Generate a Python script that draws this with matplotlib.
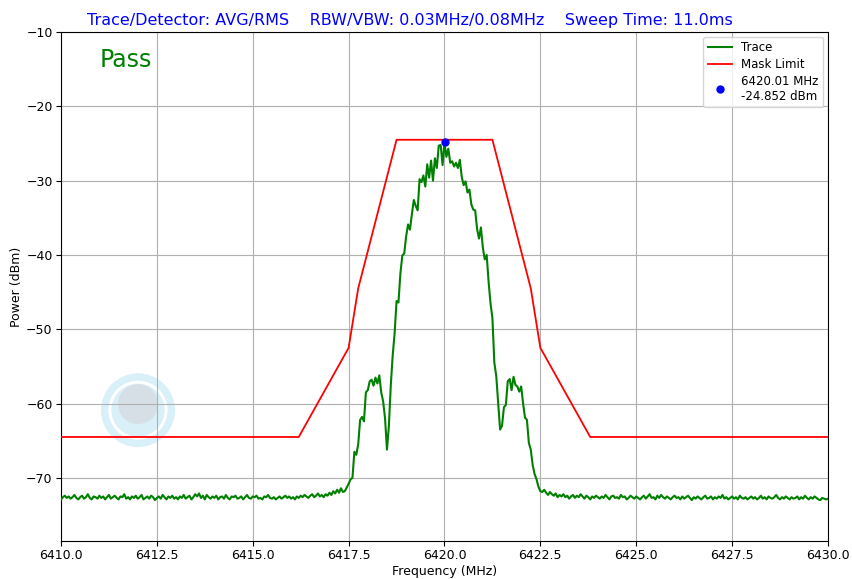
import numpy as np
import matplotlib
matplotlib.use("Agg")
import matplotlib.pyplot as plt
from matplotlib.patches import Ellipse

# sweep: 6410 .. 6430 MHz, 0.05 MHz step
start_freq = 6410.0
step = 0.05

floor_left = [
    -72.9, -72.6, -72.4, -72.7, -72.5, -72.8, -72.6, -72.3, -72.7, -72.9, -72.6, -72.4, -72.8, -72.6, -72.2, -72.7, -72.9, -72.5, -72.6, -72.8,
    -72.4, -72.7, -72.5, -72.9, -72.6, -72.3, -72.8, -72.6, -72.4, -72.7, -72.9, -72.5, -72.6, -72.2, -72.8, -72.6, -72.9, -72.5, -72.7, -72.4,
    -72.8, -72.6, -72.3, -72.9, -72.7, -72.5, -72.8, -72.4, -72.6, -73.0, -72.7, -72.5, -72.8, -72.3, -72.6, -72.9, -72.5, -72.7, -72.4, -72.8,
    -72.6, -72.9, -72.5, -72.7, -72.3, -72.8, -72.6, -72.4, -72.9, -72.6, -72.2, -72.5, -72.1, -72.7, -72.4, -72.9, -72.3, -72.6, -72.8, -72.5,
    -72.7, -72.4, -72.9, -72.6, -72.5, -72.8, -72.3, -72.7, -72.9, -72.5, -72.6, -72.4, -72.8, -72.7, -72.5, -72.9, -72.6, -72.3, -72.7, -72.8,
    -72.5, -72.6, -72.4, -72.8, -72.7, -72.9, -72.5, -72.6, -72.3, -72.7, -72.8, -72.6, -72.9, -72.7, -72.5, -72.8, -72.6, -72.4, -72.7, -72.5,
    -72.8, -72.6, -72.9, -72.5, -72.7, -72.4, -72.6, -72.3, -72.5, -72.7, -72.4, -72.2, -72.6, -72.4, -72.1, -72.5, -72.3, -72.6, -72.2, -72.4,
    -72.0, -72.3, -71.8, -72.1, -71.6, -72.0, -71.4, -71.9,
]

signal = [
    -71.8, -71.3, -70.8, -70.2, -70.0, -66.5, -66.9, -65.5, -62.2, -61.8,
    -62.4, -58.5, -58.2, -57.0, -56.8, -57.6, -56.5, -57.3, -56.2, -58.5,
    -59.7, -62.0, -66.2, -63.0, -57.5, -53.5, -50.5, -46.2, -46.4, -42.5,
    -40.1, -39.8, -37.5, -35.9, -36.6, -34.5, -32.6, -33.4, -34.0, -29.8,
    -30.2, -29.3, -30.8, -27.8, -29.6, -27.3, -30.0, -27.0, -28.3, -25.3,
    -25.2, -27.9, -24.852, -26.8, -25.7, -27.6, -27.4, -28.1, -27.6, -28.3,
    -27.2, -29.5, -30.6, -30.1, -31.6, -31.2, -33.2, -33.9, -34.0, -36.5,
    -37.8, -36.3, -39.0, -40.6, -40.0, -43.6, -46.5, -48.5, -54.5, -56.3,
    -60.0, -63.5, -63.0, -60.5, -60.2, -57.0, -56.7, -58.2, -56.4, -57.5,
    -57.7, -58.4, -57.7, -60.0, -61.9, -62.2, -65.3, -66.2, -68.3, -69.5,
    -70.2, -71.2, -71.8, -71.9, -71.6,
]

floor_right = [
    -72.0, -72.3, -71.9, -72.2, -72.4, -72.1, -72.6,
    -72.3, -72.5, -72.2, -72.6, -72.4, -72.8, -72.5, -72.3, -72.7, -72.4, -72.6, -72.2, -72.5, -72.8, -72.4, -72.6, -72.9, -72.5, -72.7, -72.4,
    -72.6, -72.8, -72.5, -72.7, -72.3, -72.6, -72.9, -72.5, -72.4, -72.7, -72.6, -72.8, -72.3, -72.6, -72.5, -72.9, -72.7, -72.4, -72.6, -72.8,
    -72.5, -72.7, -72.9, -72.6, -72.4, -72.8, -72.5, -72.2, -72.7, -72.6, -72.9, -72.4, -72.7, -72.3, -72.6, -72.8, -72.5, -72.7, -72.9, -72.6,
    -72.4, -72.7, -72.6, -72.9, -72.5, -72.8, -72.6, -72.4, -72.7, -73.0, -72.6, -72.8, -72.5, -72.7, -72.9, -72.6, -72.4, -72.8, -72.7, -72.5,
    -72.9, -72.6, -72.8, -72.5, -72.7, -72.3, -72.8, -72.6, -72.9, -72.7, -72.5, -72.8, -72.6, -72.9, -72.4, -72.7, -72.8, -72.6, -72.9, -72.7,
    -72.5, -72.8, -72.6, -72.9, -72.7, -72.4, -72.8, -72.6, -72.9, -72.5, -72.7, -72.8, -72.6, -72.3, -72.7, -72.9, -72.6, -72.8, -72.5, -72.7,
    -72.9, -72.6, -72.8, -72.7, -72.5, -72.9, -72.6, -72.8, -72.4, -72.7, -72.9, -72.6, -72.8, -72.5, -72.7, -72.9, -73.0, -72.7, -72.8, -72.9,
    -72.8,
]

mask_freq = [6410.0, 6416.2, 6417.5, 6417.75, 6418.75, 6421.25, 6422.25, 6422.5, 6423.8, 6430.0]
mask_power = [-64.5, -64.5, -52.5, -44.5, -24.5, -24.5, -44.5, -52.5, -64.5, -64.5]

marker_freq = 6420.01
marker_power = -24.852

power = np.array(floor_left + signal + floor_right)
freq = start_freq + step * np.arange(len(power))

fig = plt.figure(figsize=(8.52, 5.79), dpi=100)
ax = fig.add_axes([0.0716, 0.0656, 0.9002, 0.8791])

# faint logo watermark
logo = [(0.5, '#d9f0f9', 0.0), (0.40, '#ffffff', 0.0), (0.36, '#d9f0f9', 0.0), (0.27, '#d6dee6', 0.012)]
for r, c, dy in logo:
    ax.add_patch(Ellipse((0.1004, 0.257 + dy), 0.0965 * 2 * r, 0.145 * 2 * r,
                         transform=ax.transAxes, color=c, zorder=0.5, lw=0))

ax.plot(freq, power, color='green', lw=1.5, label='Trace', zorder=3)
ax.plot(mask_freq, mask_power, color='red', lw=1.3, label='Mask Limit', zorder=3)
ax.plot([marker_freq], [marker_power], 'o', color='blue', ms=5, zorder=4,
        label=f'{marker_freq:.2f} MHz\n{marker_power:.3f} dBm')

ax.set_xlim(6410, 6430)
ax.set_ylim(-78.5, -10)
ax.set_xticks(np.arange(6410, 6430.1, 2.5))
ax.set_xticklabels([f'{v:.1f}' for v in np.arange(6410, 6430.1, 2.5)])
ax.tick_params(labelsize=9, pad=2.5)
ax.grid(True, color='#b0b0b0', lw=0.8)
ax.set_axisbelow(True)
ax.set_xlabel('Frequency (MHz)', fontsize=9, labelpad=2)
ax.set_ylabel('Power (dBm)', fontsize=9, labelpad=2)

ax.text(0.05, 0.945, 'Pass', color='green', fontsize=17, transform=ax.transAxes,
        va='center', ha='left')
fig.suptitle('Trace/Detector: AVG/RMS    RBW/VBW: 0.03MHz/0.08MHz    Sweep Time: 11.0ms',
             color='blue', fontsize=11.5, x=0.4806, y=0.978)
ax.legend(loc='upper right', fontsize=8.5, labelspacing=0.3, borderaxespad=0.4)

fig.savefig('out.png', dpi=100)
